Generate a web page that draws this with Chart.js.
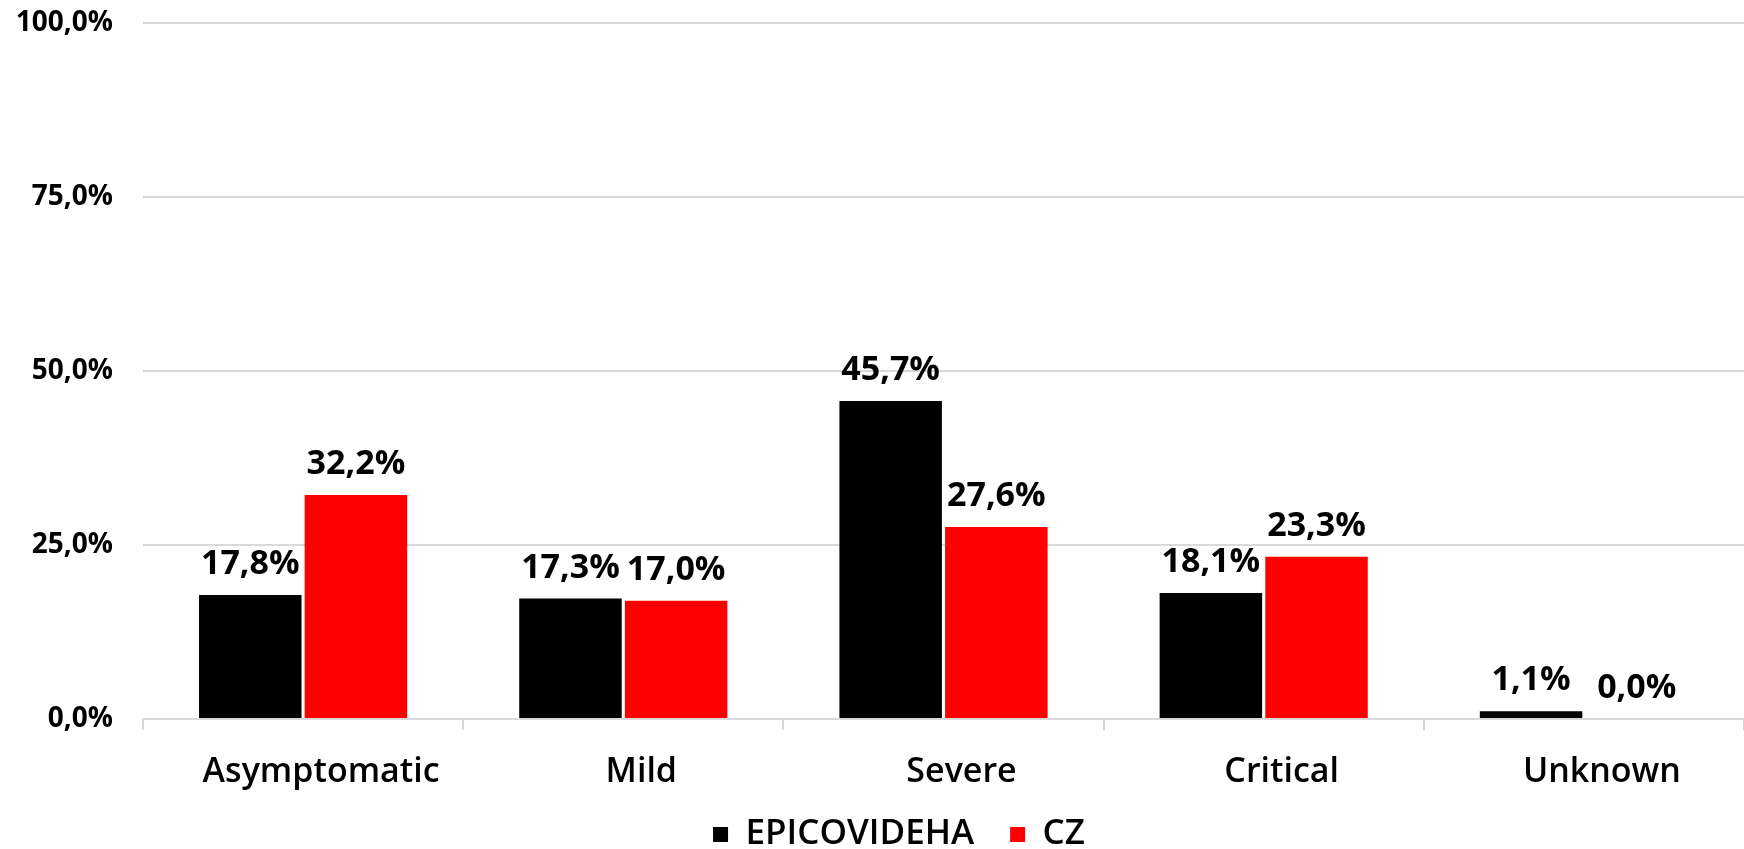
<!DOCTYPE html>
<html>
<head>
<meta charset="utf-8">
<script src="https://cdn.jsdelivr.net/npm/chart.js@4"></script>
<style>
  html, body { margin: 0; padding: 0; background: #fff; }
  #wrap { width: 1744px; height: 849px; }
</style>
</head>
<body>
<div id="wrap"><canvas id="severityChart" width="1744" height="849"></canvas></div>
<script>
// data
const categories = ['Asymptomatic', 'Mild', 'Severe', 'Critical', 'Unknown'];
const epicovidehaValues = [17.8, 17.3, 45.7, 18.1, 1.1];
const czValues = [32.2, 17.0, 27.6, 23.3, 0.0];
const yTicks = [0, 25, 50, 75, 100];

const FONT = "'Open Sans', 'DejaVu Sans', sans-serif";
const fmt = v => v.toFixed(1).replace('.', ',') + '%';

// value labels above bars + legend strip tweaks
const barLabels = {
  id: 'barLabels',
  afterInit(chart) {
    // keep the legend strip short so the plot reaches down like the original
    const lg = chart.legend;
    const origFit = lg.fit.bind(lg);
    lg.fit = function () { origFit(); this.height = 42; };
  },
  afterLayout(chart) {
    // legend sits a bit right of centre and tucked up under the axis labels
    const lg = chart.legend;
    lg.left += 54;
    lg.top -= 26;
  },
  afterDatasetsDraw(chart) {
    const ctx = chart.ctx;
    ctx.save();
    ctx.font = 'bold 34px ' + FONT;
    ctx.fillStyle = '#000';
    ctx.textAlign = 'center';
    ctx.textBaseline = 'alphabetic';
    chart.data.datasets.forEach((ds, i) => {
      chart.getDatasetMeta(i).data.forEach((bar, j) => {
        ctx.fillText(fmt(ds.data[j]), bar.x, bar.y - 21);
      });
    });
    ctx.restore();
  }
};

new Chart(document.getElementById('severityChart').getContext('2d'), {
  type: 'bar',
  data: {
    labels: categories,
    datasets: [
      {
        label: 'EPICOVIDEHA',
        backgroundColor: '#000000',
        data: epicovidehaValues,
        categoryPercentage: 0.66,
        barPercentage: 0.97
      },
      {
        label: 'CZ',
        backgroundColor: '#ff0000',
        data: czValues,
        categoryPercentage: 0.66,
        barPercentage: 0.97
      }
    ]
  },
  options: {
    responsive: false,
    animation: false,
    layout: { padding: { top: 23, right: 0, left: 0, bottom: 0 } },
    plugins: {
      tooltip: { enabled: false },
      legend: {
        position: 'bottom',
        labels: {
          color: '#000',
          font: { family: FONT, size: 35, weight: '600' },
          boxWidth: 15,
          boxHeight: 15,
          padding: 36
        }
      }
    },
    scales: {
      x: {
        afterFit(scale) { scale.height = 88; },
        grid: { display: true, drawOnChartArea: false, color: '#d9d9d9', lineWidth: 2, tickLength: 11 },
        border: { color: '#d9d9d9', width: 2 },
        ticks: {
          color: '#000',
          font: { family: FONT, size: 34, weight: '600' },
          padding: 22,
          labelOffset: 18
        }
      },
      y: {
        min: 0,
        max: 100,
        afterBuildTicks(scale) { scale.ticks = yTicks.map(v => ({ value: v })); },
        afterFit(scale) {
          scale.width = 143;
          scale.paddingTop = 0;
          scale.paddingBottom = 0;
        },
        grid: { color: '#d9d9d9', lineWidth: 2, drawTicks: false },
        border: { display: false },
        ticks: {
          color: '#000',
          font: { family: FONT, size: 28, weight: 'bold' },
          padding: 30,
          callback: v => fmt(v)
        }
      }
    }
  },
  plugins: [barLabels]
});
</script>
</body>
</html>
